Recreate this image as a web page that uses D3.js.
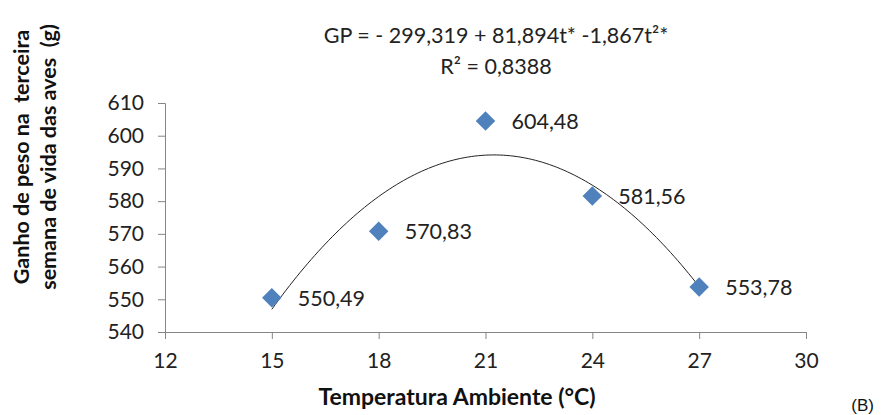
<!DOCTYPE html>
<html>
<head>
<meta charset="utf-8">
<script src="https://cdn.jsdelivr.net/npm/d3@7"></script>
<style>
  html, body { margin: 0; padding: 0; background: #fff; }
  svg { display: block; }
</style>
</head>
<body>
<svg id="chart" width="882" height="415"></svg>
<script>
// Ambient temperature (°C) and weight gain in the third week (g)
const temperatures = [15, 18, 21, 24, 27];
const weightGain = [550.49, 570.83, 604.48, 581.56, 553.78];
const valueLabels = ["550,49", "570,83", "604,48", "581,56", "553,78"];
const xTicks = [12, 15, 18, 21, 24, 27, 30];
const yTicks = [540, 550, 560, 570, 580, 590, 600, 610];
const equationText = "GP = - 299,319 + 81,894t* -1,867t²*";
const r2Text = "R² = 0,8388";

const svg = d3.select("#chart");
const axisColor = "#868686";
const markColor = "#4F81BD";
const numFont = "Lato, 'Open Sans', sans-serif";

const x = d3.scaleLinear().domain([12, 30]).range([165, 806]);
const y = d3.scaleLinear().domain([540, 610]).range([332, 103]);

// Y axis
const yAxis = svg.append("g").attr("transform", "translate(165,0)")
  .call(d3.axisLeft(y).tickValues(yTicks).tickSize(7).tickPadding(14).tickFormat(d3.format("d")));
yAxis.selectAll("path, line").attr("stroke", axisColor);
yAxis.selectAll("text").attr("font-family", numFont).attr("font-size", 21).attr("fill", "#222");

// X axis
const xAxis = svg.append("g").attr("transform", "translate(0,332)")
  .call(d3.axisBottom(x).tickValues(xTicks).tickSize(7).tickPadding(14).tickFormat(d3.format("d")));
xAxis.selectAll("path, line").attr("stroke", axisColor);
xAxis.selectAll("text").attr("font-family", numFont).attr("font-size", 21).attr("fill", "#222");

// Quadratic least-squares trend line through the observed means
function quadFit(xs, ys) {
  const s = [0, 0, 0, 0, 0], t = [0, 0, 0];
  xs.forEach((xi, i) => {
    for (let k = 0; k < 5; k++) s[k] += Math.pow(xi, k);
    for (let k = 0; k < 3; k++) t[k] += ys[i] * Math.pow(xi, k);
  });
  const A = [[s[0], s[1], s[2], t[0]], [s[1], s[2], s[3], t[1]], [s[2], s[3], s[4], t[2]]];
  for (let i = 0; i < 3; i++) {
    for (let j = i + 1; j < 3; j++) {
      const f = A[j][i] / A[i][i];
      for (let k = i; k < 4; k++) A[j][k] -= f * A[i][k];
    }
  }
  const c = [0, 0, 0];
  for (let i = 2; i >= 0; i--) {
    let v = A[i][3];
    for (let k = i + 1; k < 3; k++) v -= A[i][k] * c[k];
    c[i] = v / A[i][i];
  }
  return c;
}
const coef = quadFit(temperatures, weightGain);
const trendPts = d3.range(0, 121).map(i => {
  const t = 15 + i * 0.1;
  return [t, coef[0] + coef[1] * t + coef[2] * t * t];
});
svg.append("path")
  .datum(trendPts)
  .attr("fill", "none")
  .attr("stroke", "#222")
  .attr("stroke-width", 1)
  .attr("d", d3.line().x(d => x(d[0])).y(d => y(d[1])));

// Diamond markers
svg.append("g").selectAll("path")
  .data(temperatures)
  .join("path")
  .attr("d", d3.symbol().type(d3.symbolSquare).size(190))
  .attr("transform", (d, i) => `translate(${x(d)},${y(weightGain[i])}) rotate(45)`)
  .attr("fill", markColor);

// Value labels
svg.append("g").selectAll("text")
  .data(temperatures)
  .join("text")
  .attr("x", d => x(d) + 26)
  .attr("y", (d, i) => y(weightGain[i]) + 8)
  .attr("font-family", numFont)
  .attr("font-size", 21.5)
  .attr("fill", "#222")
  .text((d, i) => valueLabels[i]);

// Regression equation
svg.append("text").attr("x", 496).attr("y", 43).attr("text-anchor", "middle")
  .attr("font-family", numFont).attr("font-size", 21.5).attr("fill", "#222").text(equationText);
svg.append("text").attr("x", 496).attr("y", 74).attr("text-anchor", "middle")
  .attr("font-family", numFont).attr("font-size", 21.5).attr("fill", "#222").text(r2Text);

// Axis titles
svg.append("text").attr("x", 457).attr("y", 405).attr("text-anchor", "middle")
  .attr("font-family", numFont).attr("font-weight", "bold").attr("font-size", 23).attr("fill", "#111")
  .text("Temperatura Ambiente (°C)");

const yTitle = svg.append("g").attr("transform", "translate(0,157) rotate(-90)");
yTitle.append("text").attr("x", 0).attr("y", 29).attr("text-anchor", "middle")
  .attr("font-family", numFont).attr("font-weight", "bold").attr("font-size", 21.5).attr("fill", "#111")
  .attr("xml:space", "preserve")
  .text("Ganho de peso na  terceira");
yTitle.append("text").attr("x", 0).attr("y", 56).attr("text-anchor", "middle")
  .attr("font-family", numFont).attr("font-weight", "bold").attr("font-size", 21.5).attr("fill", "#111")
  .attr("xml:space", "preserve")
  .text("semana de vida das aves  (g)");

// Panel tag
svg.append("text").attr("x", 874).attr("y", 411).attr("text-anchor", "end")
  .attr("font-family", "'Liberation Sans', Arial, sans-serif").attr("font-size", 17).attr("fill", "#111")
  .text("(B)");
</script>
</body>
</html>
